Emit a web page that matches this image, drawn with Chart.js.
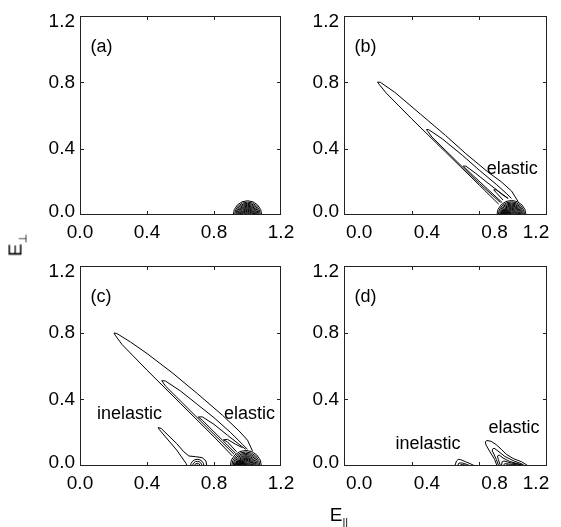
<!DOCTYPE html>
<html>
<head>
<meta charset="utf-8">
<script src="https://cdn.jsdelivr.net/npm/chart.js@4"></script>
<style>
body { margin: 0; background: #fff; width: 561px; height: 527px; position: relative; overflow: hidden; font-family: "Liberation Sans", Arial, sans-serif; }
canvas { position: absolute; }
.ttl { position: absolute; font-size: 19px; color: #000; white-space: nowrap; line-height: 1; }
.ttl sub { font-size: 11px; vertical-align: -5px; }
</style>
</head>
<body>
<canvas id="pa" width="310" height="255" style="left:0;top:0"></canvas>
<canvas id="pb" width="281" height="255" style="left:280px;top:0"></canvas>
<canvas id="pc" width="310" height="260" style="left:0;top:250px"></canvas>
<canvas id="pd" width="281" height="260" style="left:280px;top:250px"></canvas>
<div class="ttl" style="left:17px;top:245px;transform:translate(-50%,-50%) rotate(-90deg)">E<sub>&perp;</sub></div>
<div class="ttl" style="left:339px;top:516px;transform:translate(-50%,-50%)">E<sub>||</sub></div>
<script>
// axis ticks
const tickVals = [0, 0.4, 0.8, 1.2];
const innerTicks = [0.4, 0.8];

// (a) elastic peak only: contour radii around E_par = 1.0
const ringsA = [0.085, 0.077, 0.070, 0.064, 0.058, 0.053, 0.048, 0.043, 0.038, 0.033, 0.028, 0.023, 0.018, 0.013, 0.008];

// (b) elastic peak plus diagonal ridge
const ringsB = [0.086, 0.078, 0.071, 0.065, 0.059, 0.054, 0.049, 0.044, 0.039, 0.034, 0.029, 0.024, 0.019, 0.014, 0.009];
const ringsB2 = [0.03, 0.024, 0.018, 0.012, 0.006];
const bOuter = [[0.915,0.065],[0.80,0.18],[0.60,0.38],[0.40,0.58],[0.25,0.735],[0.21,0.785],[0.198,0.802],[0.215,0.80],[0.30,0.74],[0.45,0.61],[0.60,0.48],[0.72,0.37],[0.85,0.26],[0.93,0.20],[0.99,0.145],[1.03,0.08]];
const bMid = [[0.925,0.075],[0.80,0.19],[0.65,0.34],[0.52,0.47],[0.495,0.505],[0.487,0.515],[0.50,0.515],[0.58,0.46],[0.70,0.36],[0.80,0.27],[0.90,0.185],[0.96,0.13],[0.99,0.10]];
const bThird = [[0.935,0.075],[0.85,0.155],[0.75,0.25],[0.715,0.285],[0.705,0.295],[0.72,0.295],[0.78,0.25],[0.86,0.185],[0.93,0.13],[0.97,0.10]];
const bFourth = [[0.94,0.09],[0.90,0.135],[0.885,0.152],[0.90,0.152],[0.94,0.12],[0.97,0.10]];

// (c) elastic + inelastic
const ringsC = [0.093, 0.084, 0.076, 0.069, 0.062, 0.056, 0.050, 0.045, 0.040, 0.035, 0.030, 0.025, 0.020, 0.015, 0.010, 0.005];
const ringsC2 = [0.032, 0.026, 0.020, 0.014, 0.008];
const ringsCinel = [0.040, 0.028, 0.016, 0.006];
const cOuter = [[0.91,0.06],[0.80,0.175],[0.60,0.375],[0.40,0.575],[0.25,0.73],[0.21,0.785],[0.203,0.798],[0.22,0.795],[0.30,0.745],[0.40,0.675],[0.55,0.56],[0.70,0.435],[0.85,0.305],[0.95,0.21],[1.00,0.155],[1.03,0.09]];
const cMid = [[0.92,0.07],[0.80,0.19],[0.65,0.34],[0.51,0.48],[0.488,0.512],[0.51,0.51],[0.60,0.45],[0.70,0.37],[0.80,0.29],[0.90,0.20],[0.97,0.13],[1.00,0.10]];
const cThird = [[0.93,0.075],[0.85,0.155],[0.73,0.275],[0.706,0.294],[0.73,0.295],[0.80,0.25],[0.88,0.185],[0.95,0.13],[0.99,0.10]];
const cFourth = [[0.935,0.085],[0.88,0.145],[0.856,0.157],[0.88,0.16],[0.93,0.13],[0.97,0.11]];
const cInel = [[0.641,0.0],[0.633,0.016],[0.577,0.096],[0.473,0.219],[0.467,0.231],[0.485,0.225],[0.577,0.135],[0.62,0.085],[0.65,0.06],[0.69,0.056],[0.73,0.05],[0.752,0.03],[0.757,0.0]];

// (d) flattened peaks
const dEl1 = [[0.905,0.0],[0.89,0.04],[0.86,0.09],[0.84,0.125],[0.835,0.145],[0.845,0.153],[0.87,0.148],[0.90,0.128],[0.93,0.10],[0.96,0.07],[1.00,0.045],[1.05,0.025],[1.09,0.0]];
const dEl2 = [[0.915,0.0],[0.90,0.04],[0.88,0.085],[0.877,0.10],[0.887,0.107],[0.91,0.09],[0.95,0.058],[1.0,0.032],[1.05,0.013],[1.07,0.0]];
const dEl3 = [[0.925,0.0],[0.912,0.04],[0.907,0.06],[0.917,0.066],[0.94,0.048],[0.98,0.027],[1.04,0.01],[1.06,0.0]];
const dEl4 = [[0.93,0.0],[0.935,0.025],[0.945,0.03],[0.99,0.018],[1.05,0.007],[1.06,0.0]];
const dEl5 = [[0.94,0.0],[0.95,0.014],[1.0,0.01],[1.04,0.004],[1.05,0.0]];
const dEl6 = [[0.95,0.0],[0.96,0.006],[1.0,0.005],[1.03,0.0]];
const dIn1 = [[0.655,0.0],[0.665,0.03],[0.675,0.04],[0.69,0.038],[0.72,0.025],[0.75,0.012],[0.775,0.0]];
const dIn2 = [[0.67,0.0],[0.68,0.018],[0.70,0.018],[0.73,0.008],[0.75,0.0]];
const dIn3 = [[0.685,0.0],[0.69,0.008],[0.71,0.007],[0.73,0.0]];

const notes = {
  pa: [{t: '(a)', x: 0.062, y: 1.015, al: 'left'}],
  pb: [{t: '(b)', x: 0.062, y: 1.015, al: 'left'}, {t: 'elastic', x: 0.995, y: 0.28, al: 'center'}],
  pc: [{t: '(c)', x: 0.062, y: 1.015, al: 'left'}, {t: 'inelastic', x: 0.296, y: 0.31, al: 'center'}, {t: 'elastic', x: 1.012, y: 0.31, al: 'center'}],
  pd: [{t: '(d)', x: 0.062, y: 1.015, al: 'left'}, {t: 'inelastic', x: 0.497, y: 0.131, al: 'center'}, {t: 'elastic', x: 1.005, y: 0.227, al: 'center'}]
};

// x label nudges (data units) for the right-hand column, where labels sit right of their ticks
const xShiftRight = [0.09, 0.09, 0.09, -0.065];
const xShiftLeft = [0, 0, 0, 0];

const FONT = '"Liberation Sans", Arial, sans-serif';

function contour(pts) {
  return { data: pts, showLine: true, pointRadius: 0, borderColor: '#000', borderWidth: 1, tension: 0, fill: false, clip: 0 };
}
function rings(cx, radii) {
  return {
    data: radii.map(r => ({x: cx, y: 0, rad: r})),
    showLine: false,
    pointStyle: 'circle',
    pointBackgroundColor: 'rgba(0,0,0,0)',
    pointBorderColor: '#000',
    pointBorderWidth: 1,
    pointRadius: c => {
      if (!c.raw) return 0;
      const s = c.chart.scales.x;
      return s.getPixelForValue(c.raw.x + c.raw.rad) - s.getPixelForValue(c.raw.x);
    },
    clip: 0
  };
}

const framePlugin = {
  id: 'frame',
  afterDatasetsDraw(chart) {
    const {ctx, chartArea: a, scales: {x, y}} = chart;
    ctx.save();
    ctx.strokeStyle = '#222';
    ctx.lineWidth = 1;
    ctx.strokeRect(Math.round(a.left) + 0.5, Math.round(a.top) + 0.5, Math.round(a.width) - 1, Math.round(a.height) - 1);
    ctx.beginPath();
    for (const v of innerTicks) {
      const px = Math.round(x.getPixelForValue(v)) + 0.5;
      ctx.moveTo(px, a.bottom); ctx.lineTo(px, a.bottom - 4);
      ctx.moveTo(px, a.top); ctx.lineTo(px, a.top + 4);
      const py = Math.round(y.getPixelForValue(v)) + 0.5;
      ctx.moveTo(a.left, py); ctx.lineTo(a.left + 4, py);
      ctx.moveTo(a.right, py); ctx.lineTo(a.right - 4, py);
    }
    ctx.stroke();
    ctx.fillStyle = '#000';
    ctx.textBaseline = 'middle';
    for (const n of notes[chart.canvas.id] || []) {
      ctx.font = '18px ' + FONT;
      ctx.textAlign = n.al;
      ctx.fillText(n.t, x.getPixelForValue(n.x), y.getPixelForValue(n.y));
    }
    ctx.restore();
  }
};

function panel(id, yWidth, xHeight, padTop, padRight, xShift, datasets) {
  return new Chart(document.getElementById(id), {
    type: 'scatter',
    data: { datasets },
    options: {
      responsive: false,
      animation: false,
      events: [],
      layout: { padding: { top: padTop, right: padRight, left: 0, bottom: 0 } },
      plugins: { legend: { display: false }, tooltip: { enabled: false } },
      scales: {
        x: {
          type: 'linear', min: 0, max: 1.2,
          afterBuildTicks: s => { s.ticks = tickVals.map((v, i) => ({value: v + xShift[i]})); },
          afterFit: s => { s.height = xHeight; },
          grid: { display: false, drawTicks: false },
          border: { display: false },
          ticks: {
            callback: (v, i) => tickVals[i].toFixed(1),
            font: {family: FONT, size: 19},
            color: '#000', padding: 6, autoSkip: false, maxRotation: 0
          }
        },
        y: {
          type: 'linear', min: 0, max: 1.2,
          afterBuildTicks: s => { s.ticks = tickVals.map(v => ({value: v})); },
          afterFit: s => { s.width = yWidth; },
          grid: { display: false, drawTicks: false },
          border: { display: false },
          ticks: {
            // end labels sit inside the frame: first pushed up, last pushed down
            callback: (v, i) => i === 0 ? [v.toFixed(1), ''] : (i === tickVals.length - 1 ? ['', v.toFixed(1)] : v.toFixed(1)),
            font: c => ({family: FONT, size: 19, lineHeight: c.index === 0 ? '7px' : (c.index === tickVals.length - 1 ? '11px' : 1.2)}),
            color: '#000', padding: 5, autoSkip: false
          }
        }
      }
    },
    plugins: [framePlugin]
  });
}

panel('pa', 80, 40, 14, 29, xShiftLeft, [rings(1.0, ringsA)]);
panel('pb', 64, 40, 14, 14, xShiftRight, [rings(0.99, ringsB), rings(0.955, ringsB2), contour(bOuter), contour(bMid), contour(bThird), contour(bFourth)]);
panel('pc', 80, 44, 15, 29, xShiftLeft, [rings(0.99, ringsC), rings(0.955, ringsC2), rings(0.70, ringsCinel), contour(cOuter), contour(cMid), contour(cThird), contour(cFourth), contour(cInel)]);
panel('pd', 64, 44, 15, 14, xShiftRight, [contour(dEl1), contour(dEl2), contour(dEl3), contour(dEl4), contour(dEl5), contour(dEl6), contour(dIn1), contour(dIn2), contour(dIn3)]);
</script>
</body>
</html>
